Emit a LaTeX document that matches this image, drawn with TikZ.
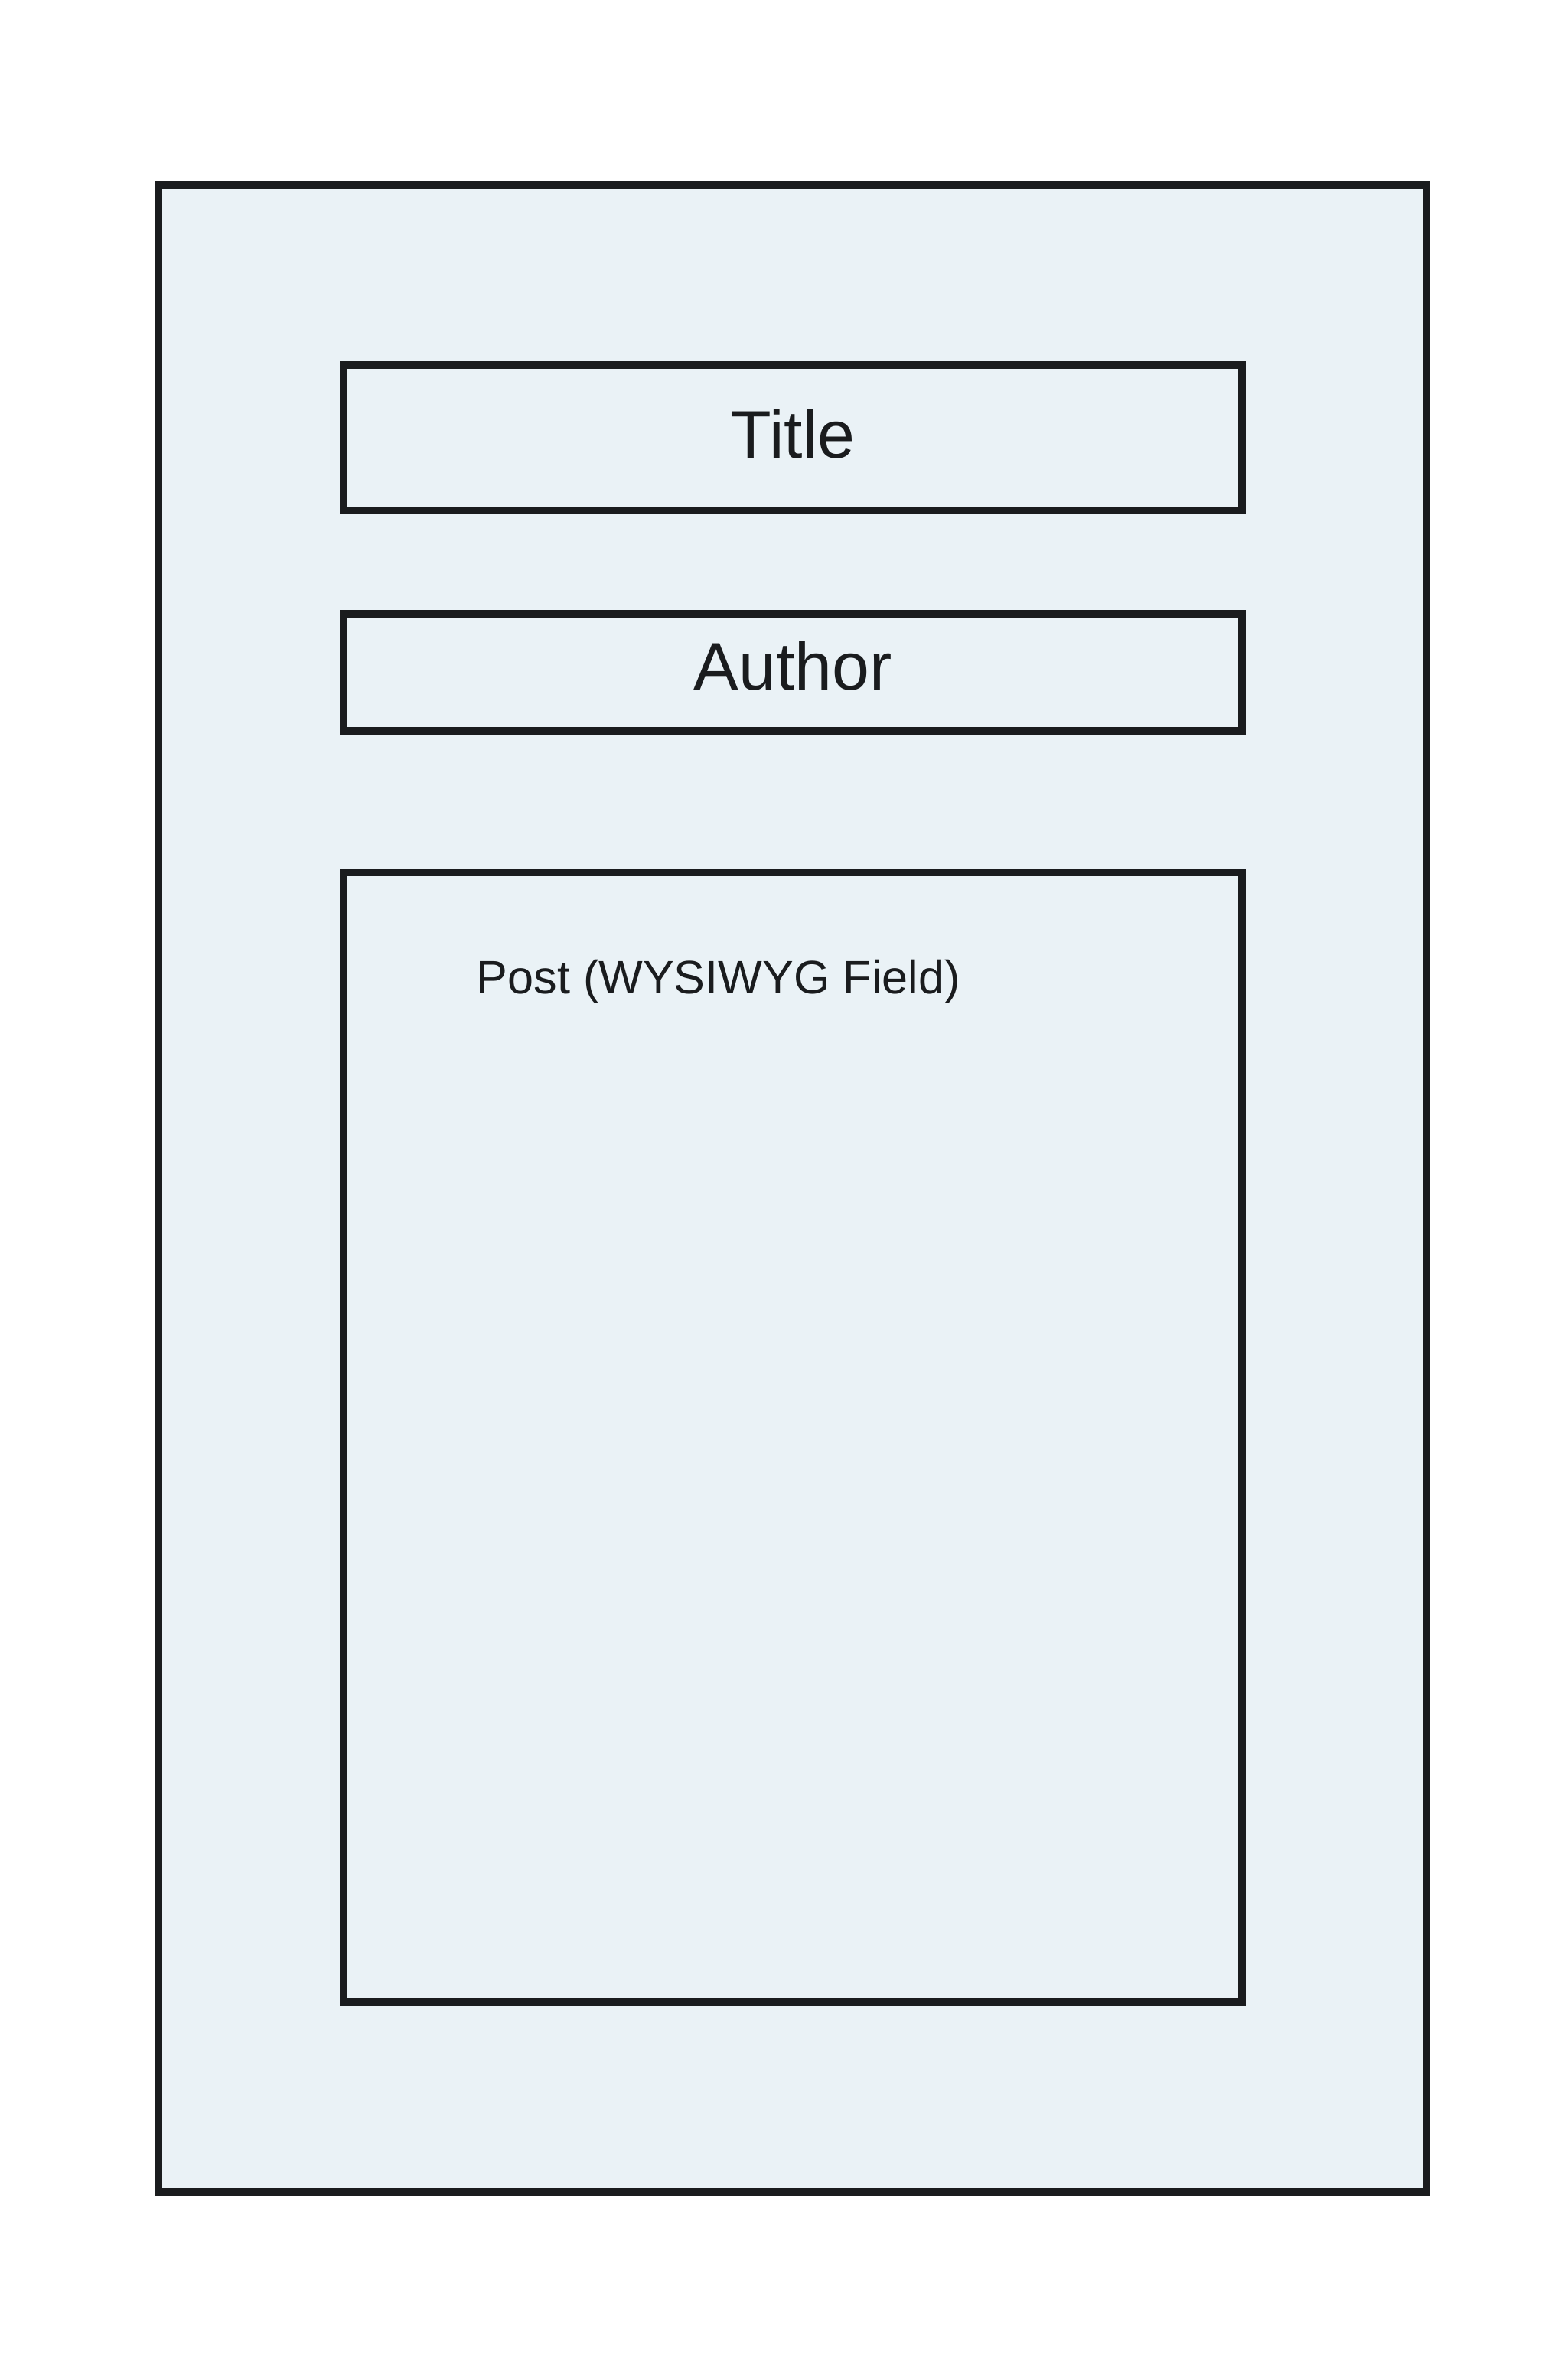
\documentclass[tikz,border=0pt]{standalone}
\usepackage{fontspec}
\setmainfont{Liberation Sans}
\definecolor{pagefill}{RGB}{234,242,246}
\definecolor{edge}{RGB}{26,28,30}
\begin{document}
\begin{tikzpicture}
	\tikzset{
		page node/.style={rectangle, draw=edge, fill=pagefill, line width=2.85pt, minimum width=16.57cm, minimum height=26.22cm, inner sep=0pt},
		field node/.style={rectangle, draw=edge, line width=2.85pt, minimum width=11.74cm, inner sep=0pt, font=\fontsize{25}{30}\selectfont, text=edge},
		hint/.style={anchor=base west, inner sep=0pt, font=\fontsize{17.4}{21}\selectfont, text=edge}
	}
	\useasboundingbox (0,0) rectangle (20.48,-30.93);
	% Page
	\node (page) at (10.355,-15.53) [page node] {};
	
	% Fields
	\node (title) at (10.36,-5.72) [field node, minimum height=1.90cm, text depth=0.1cm] {Title};
	\node (author) at (10.36,-8.785) [field node, minimum height=1.53cm, text depth=0.18cm] {Author};
	\node (post) at (10.36,-18.78) [field node, minimum height=14.76cm] {};
	\node (postlabel) at (6.22,-12.98) [hint] {Post (WYSIWYG Field)};
\end{tikzpicture}
\end{document}
